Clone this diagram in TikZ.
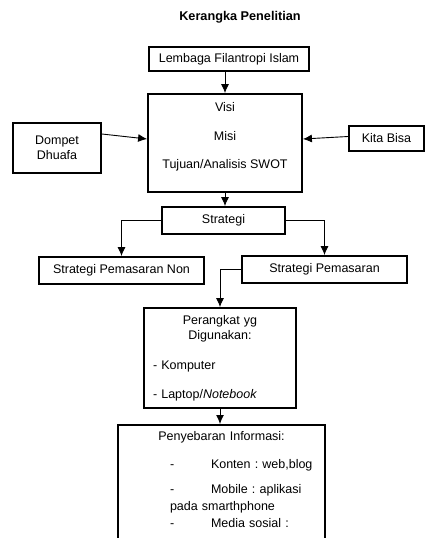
\documentclass[tikz,border=0pt]{standalone}
\usepackage{fontspec}
\setmainfont{Liberation Sans}
\usetikzlibrary{arrows.meta}

\tikzset{
  box/.style={draw, line width=1.8pt, inner sep=0pt, align=center},
  flow/.style={line width=0.9pt, -{Latex[length=9pt,width=8pt]}}
}
\newcommand{\dashitem}{\hspace*{46pt}\makebox[41pt][l]{-}}

\begin{document}
\begin{tikzpicture}[x=1pt, y=-1pt]
                    \clip (0,0) rectangle (426,538);
                    {\fontsize{12.5}{15}\selectfont\frenchspacing

                    % Title
                    \node (judul) at (240,17) {\fontsize{12.7}{15}\selectfont\bfseries Kerangka Penelitian};

                    % Drawing boxes of the top part
                    \node[box, minimum width=160pt, minimum height=24pt] (lembaga) at (229,59) {Lembaga Filantropi Islam};
                    \node[box, minimum width=154pt, minimum height=98pt] (visimisi) at (225,143)
                      {Visi\\[13.5pt]Misi\\[13pt]Tujuan/Analisis SWOT\rule[-15pt]{0pt}{15pt}};
                    \node[box, minimum width=88pt, minimum height=50pt] (dompet) at (57,148) {Dompet\\Dhuafa};
                    \node[box, minimum width=75pt, minimum height=25pt] (kitabisa) at (386.5,138.5) {Kita Bisa};

                    % Drawing boxes of strategi
                    \node[box, minimum width=123pt, minimum height=27pt] (strategi) at (223.5,220.5) {Strategi};
                    \node[box, minimum width=165pt, minimum height=27pt] (nonpasar) at (121.5,270.5) {Strategi Pemasaran Non};
                    \node[box, minimum width=165pt, minimum height=27pt] (pasar) at (324.5,269.5) {Strategi Pemasaran};

                    % Drawing box of perangkat
                    \node[box, minimum width=152pt, minimum height=100pt, text width=134pt, align=left] (perangkat) at (220,358)
                      {\centering Perangkat yg\\Digunakan:\par\raggedright\vspace{15pt}
                       - Komputer\\[14pt]- Laptop/\textit{Notebook}};

                    % Drawing box of penyebaran (runs out of the page)
                    \node[box, anchor=north, inner xsep=6pt, inner ysep=7pt, text width=195pt, align=left] (sebar) at (221.5,424)
                      {\centering Penyebaran Informasi:\par\raggedright\vspace{13pt}
                       \dashitem Konten : web,blog\\[10pt]
                       \dashitem Mobile : aplikasi\\[1.5pt]
                       \hspace*{46pt}pada smarthphone\\[2.5pt]
                       \dashitem Media sosial :\rule[-40pt]{0pt}{40pt}};

                    % Drawing arrows
                    \draw[flow] (lembaga.south -| visimisi.north) -- (visimisi.north);
                    \draw[flow] ([yshift=14pt]dompet.east) -- ([yshift=4pt]visimisi.west);
                    \draw[flow] ([yshift=2pt]kitabisa.west) -- ([yshift=4pt]visimisi.east);
                    \draw[flow] (visimisi.south) -- (visimisi.south |- strategi.north);
                    \draw[flow] (strategi.west) -| (nonpasar.north);
                    \draw[flow] (strategi.east) -| (pasar.north);
                    \draw[flow] (pasar.west) -| (perangkat.north);
                    \draw[flow] (perangkat.south) -- (perangkat.south |- sebar.north);
                    }
\end{tikzpicture}
\end{document}
